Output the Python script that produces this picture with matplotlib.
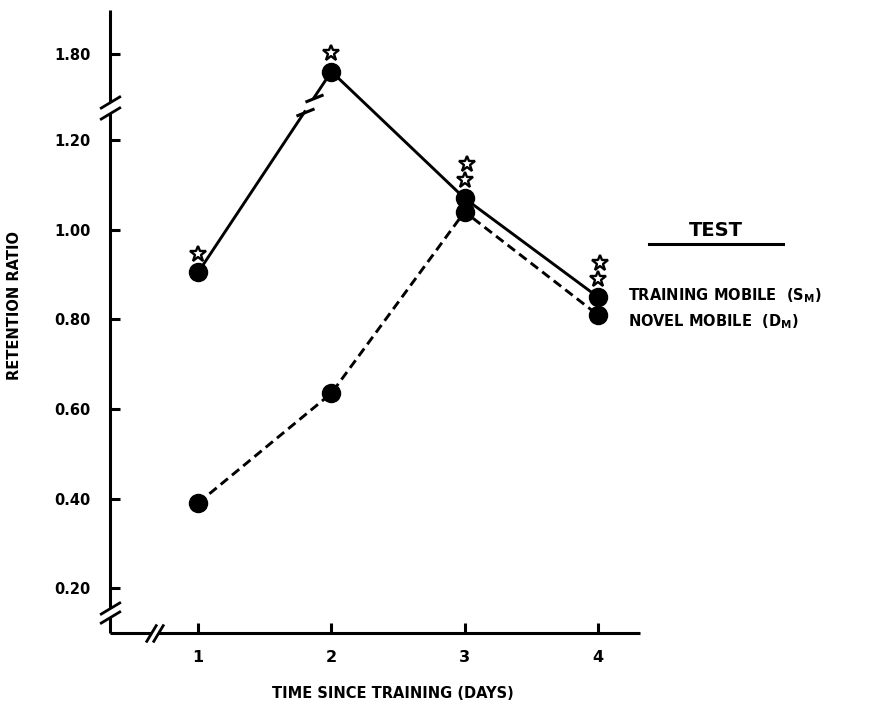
import numpy as np
import matplotlib
matplotlib.use("Agg")
import matplotlib.pyplot as plt
from matplotlib.lines import Line2D
from matplotlib.transforms import offset_copy

# data
days = [1, 2, 3, 4]
training_mobile = [0.905, 1.76, 1.07, 0.85]   # S_M, solid line
novel_mobile = [0.39, 0.635, 1.04, 0.81]      # D_M, dashed line
training_stars = [1, 1, 2, 2]                 # significance stars above S_M

y_ticks = [0.20, 0.40, 0.60, 0.80, 1.00, 1.20, 1.80]
y_tick_labels = ["0.20", "0.40", "0.60", "0.80", "1.00", "1.20", "1.80"]
x_ticks = [1, 2, 3, 4]
x_tick_labels = ["1", "2", "3", "4"]

# values above the break get pulled down so 1.80 sits just over 1.20
BREAK_AT = 1.5
BREAK_SHIFT = 0.407


def squash(v):
    v = np.asarray(v, dtype=float)
    return np.where(v > BREAK_AT, v - BREAK_SHIFT, v)


plt.rcParams["font.family"] = ["DejaVu Sans"]
plt.rcParams["font.weight"] = "bold"
plt.rcParams["mathtext.default"] = "bf"

fig = plt.figure(figsize=(8.71, 7.03), dpi=100)
ax = fig.add_axes([0.1263, 0.0996, 0.609, 0.886])
x0, x1 = 0.338, 4.32
y0, y1 = 0.10, 1.49
ax.set_xlim(x0, x1)
ax.set_ylim(y0, y1)

for side in ["left", "right", "top", "bottom"]:
    ax.spines[side].set_visible(False)

axis_kw = dict(color="black", lw=2.2, clip_on=False, solid_capstyle="butt")
slash_y = [(-1, -0.6), (1, 0.6)]
slash_x = [(-0.6, -1), (0.6, 1)]

# left axis with two breaks
y_low_break = (0.136, 0.155)
y_top_break = (1.261, 1.284)
ax.plot([x0, x0], [y0, y_low_break[0]], **axis_kw)
ax.plot([x0, x0], [y_low_break[1], y_top_break[0]], **axis_kw)
ax.plot([x0, x0], [y_top_break[1], y1], **axis_kw)
ax.plot([x0] * 4, list(y_low_break) + list(y_top_break), ls="none",
        marker=slash_y, ms=15, mew=2, color="black", clip_on=False)

# bottom axis with one break
x_break = (0.645, 0.697)
ax.plot([x0, x_break[0]], [y0, y0], **axis_kw)
ax.plot([x_break[1], x1], [y0, y0], **axis_kw)
ax.plot(list(x_break), [y0, y0], ls="none",
        marker=slash_x, ms=13, mew=2, color="black", clip_on=False)

ax.set_xticks(x_ticks)
ax.set_xticklabels(x_tick_labels)
ax.set_yticks(squash(y_ticks))
ax.set_yticklabels(y_tick_labels)
ax.tick_params(axis="y", direction="in", length=7, width=2.2, pad=14,
               labelsize=10.5)
ax.tick_params(axis="x", direction="in", length=7, width=2.2, pad=12,
               labelsize=11.5)

# training mobile: solid line, broken on the way up to day 2
ys = squash(training_mobile)
t_lo, t_hi = 0.80, 0.87
bx_lo = days[0] + t_lo * (days[1] - days[0])
by_lo = ys[0] + t_lo * (ys[1] - ys[0])
bx_hi = days[0] + t_hi * (days[1] - days[0])
by_hi = ys[0] + t_hi * (ys[1] - ys[0])
line_kw = dict(color="black", lw=2.1)
ax.plot([days[0], bx_lo], [ys[0], by_lo], **line_kw)
ax.plot([bx_hi] + days[1:], [by_hi] + list(ys[1:]), **line_kw)
ax.plot([bx_lo, bx_hi], [by_lo, by_hi], ls="none",
        marker=[(-1, -0.4), (1, 0.4)], ms=13, mew=2.2, color="black")

# novel mobile: dashed line
yn = squash(novel_mobile)
ax.plot(days, yn, color="black", lw=2.1, dashes=(3.2, 1.8))

ax.plot(days, yn, "o", color="black", ms=13)
ax.plot(days, ys, "o", color="black", ms=13)

# stars above the training mobile points
for d, y, n in zip(days, ys, training_stars):
    for k in range(n):
        trans = offset_copy(ax.transData, fig=fig, x=1.5 * k,
                            y=13 + 11.5 * k, units="points")
        ax.plot(d, y, marker="*", ms=12, mfc="white", mec="black",
                mew=1.7, transform=trans, clip_on=False)

# axis titles
fig.text(393 / 871, 1 - 694 / 703, "TIME SINCE TRAINING (DAYS)",
         ha="center", va="center", fontsize=10.5, fontweight="bold")
fig.text(15 / 871, 1 - 305 / 703, "RETENTION RATIO", rotation=90,
         ha="center", va="center", fontsize=10.5, fontweight="bold")

# legend block drawn as text
fig.text(716 / 871, 1 - 231 / 703, "TEST", ha="center", va="center",
         fontsize=14, fontweight="bold")
fig.add_artist(Line2D([649 / 871, 783 / 871], [1 - 244 / 703, 1 - 244 / 703],
                      color="black", lw=2.2, transform=fig.transFigure))
fig.text(628 / 871, 1 - 296 / 703, r"TRAINING MOBILE  ($S_M$)",
         ha="left", va="center", fontsize=10.5, fontweight="bold")
fig.text(628 / 871, 1 - 322 / 703, r"NOVEL MOBILE  ($D_M$)",
         ha="left", va="center", fontsize=10.5, fontweight="bold")

fig.savefig("out.png", dpi=100, facecolor="white")
